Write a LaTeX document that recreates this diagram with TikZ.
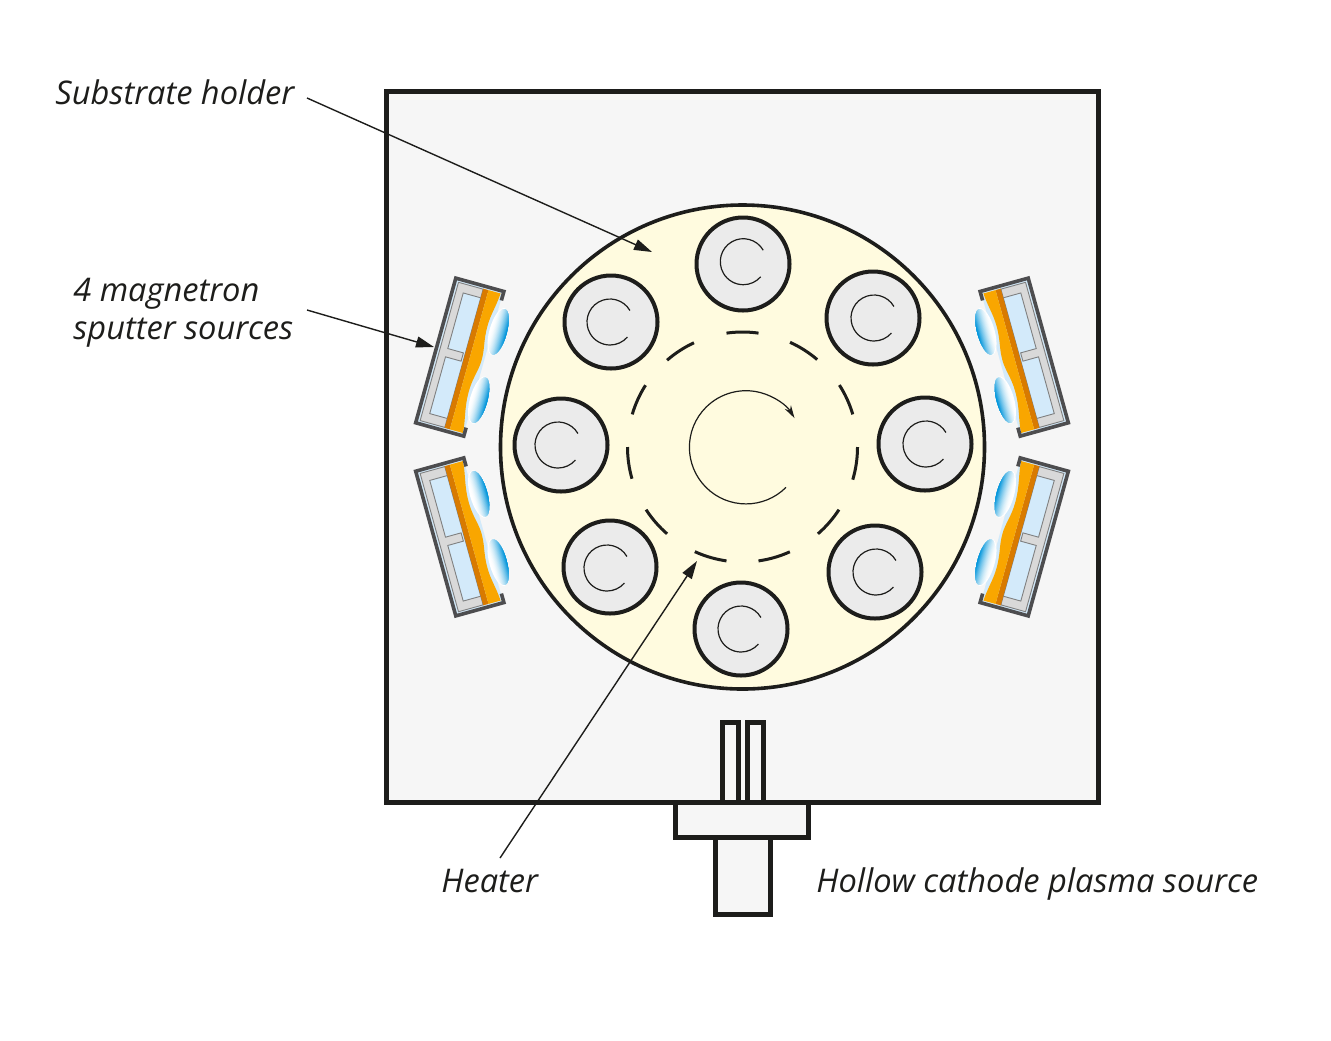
\documentclass[tikz,border=0pt]{standalone}
\usepackage{fontspec}
\setmainfont{Open Sans}
\usetikzlibrary{arrows.meta}
\definecolor{ink}{HTML}{1D1D1B}
\definecolor{chamber}{HTML}{F6F6F6}
\definecolor{holder}{HTML}{FFFBDF}
\definecolor{subst}{HTML}{EBEBEB}
\definecolor{frameg}{HTML}{4D4D4F}
\definecolor{pocket}{HTML}{D3EAFA}
\definecolor{housing}{HTML}{D9D9D9}
\definecolor{housingl}{HTML}{808080}
\definecolor{orangea}{HTML}{F9A600}
\definecolor{oranged}{HTML}{D87A00}
\definecolor{plasma}{HTML}{0095DB}
\tikzset{
  heavy/.style={draw=ink,line width=2.5pt,fill=chamber},
  holderdisc/.style={draw=ink,line width=1.8pt,fill=holder},
  substrate/.style={draw=ink,line width=2pt,fill=subst},
  thinarc/.style={draw=ink,line width=0.6pt},
  heaterdash/.style={draw=ink,line width=1.5pt},
  leader/.style={draw=ink,line width=0.7pt,-{Triangle[length=9pt,width=5.5pt]}},
  lbl/.style={font=\itshape\fontsize{16.3}{19}\selectfont,text=ink,inner sep=0pt,anchor=base west,align=left},
  hous/.style={draw=housingl,line width=0.45pt,fill=housing},
  pock/.style={draw=housingl,line width=0.45pt,fill=pocket},
}
\newcommand{\plume}[2]{%
  \fill[white] (#1-0.5,#2) ellipse [x radius=4.5pt,y radius=12.2pt];
  \begin{scope}
    \clip (#1,#2) ellipse [x radius=4pt,y radius=11.75pt];
    \foreach \i in {0,...,23}{%
      \pgfmathsetmacro{\pc}{100*pow(\i/23,1.7)}
      \fill[plasma!\pc!white] (#1-8+\i*16/24,#2-25) rectangle (#1+9,#2+25);
    }
  \end{scope}}
\newcommand{\magsource}[1]{%
  \begin{scope}[#1]
    \fill[pocket] (1,-75) rectangle (50,75);
    \fill[hous] (4.4,-72) rectangle (30,71.5);
    \fill[pock] (30,-63) -- (11.8,-63) -- (11.8,-5.3) -- (28,-5.3) -- (28,3.3) -- (11.8,3.3) -- (11.8,62.2) -- (30,62.2) -- cycle;
    \fill[oranged] (30,-72.5) rectangle (35.4,72);
    \fill[orangea] (35.4,-72.5) -- (48,-72.5)
      .. controls (47,-58) and (44,-50) .. (44,-38)
      .. controls (44,-22) and (47.5,-16) .. (47.5,-3)
      .. controls (47.5,8) and (43.5,16) .. (43.5,30)
      .. controls (43.5,48) and (48,58) .. (49,72)
      -- (35.4,72) -- cycle;
    \draw[frameg,line width=1.8pt,line join=miter] (50.6,-66) -- (50.6,-75.3) -- (0.7,-75.3) -- (0.7,74.8) -- (50.6,74.8) -- (50.6,66);
    \plume{56.5}{-35}
    \plume{56}{36}
  \end{scope}}
\newcommand{\wafer}[3]{%
  \node[substrate,circle,minimum size=46.5pt,inner sep=0pt] (#1) at (#2,#3) {};}
\newcommand{\cmark}[3]{%
  \draw[thinarc,shift={(#1,#2)}] (30:#3) arc [start angle=30,end angle=319,radius=#3];}
\begin{document}
\begin{tikzpicture}[x=0.5pt,y=-0.5pt]
\useasboundingbox (0,0) rectangle (1331,1040);
% chamber
\draw[heavy] (386,91) rectangle (1098,802);
\node[holderdisc,circle,minimum size=242pt,inner sep=0pt] (disc) at (742.5,447) {};
% substrates
\wafer{w1}{743}{264}
\wafer{w2}{611}{322}
\wafer{w3}{873}{318}
\wafer{w4}{561}{445}
\wafer{w5}{925}{444}
\wafer{w6}{610}{567}
\wafer{w7}{875}{572}
\wafer{w8}{741}{629}
\cmark{743.3}{261.7}{11.5pt}
\cmark{610}{322}{11.5pt}
\cmark{874}{318}{11.5pt}
\cmark{558}{445}{11.5pt}
\cmark{926}{444}{11.5pt}
\cmark{607}{568}{11.5pt}
\cmark{876}{572}{11.5pt}
\cmark{741}{629}{11.5pt}
% heater ring
\foreach \a/\b in {98/82,65.6/49.5,32.6/16.5,0/-16.5,-33/-49,-65.7/-82,-98/-114.5,-131/-147,-164/-180,163.5/147.5,131/115}
  \draw[heaterdash,shift={(742.5,447)}] (\a:57.5pt) arc [start angle=\a,end angle=\b,radius=57.5pt];
% rotation arrow
\draw[thinarc,shift={(746,447.3)},-{Stealth[length=6.5pt,width=3.6pt]}] (315:28.3pt) arc [start angle=315,end angle=31,radius=28.3pt];
% magnetrons
\magsource{shift={(435,350.5)},rotate=-15.5}
\magsource{shift={(435,543.5)},rotate=15.5,yscale=-1}
\magsource{shift={(1049,350.5)},rotate=15.5,xscale=-1}
\magsource{shift={(1049,543.5)},rotate=-15.5,xscale=-1,yscale=-1}
% plasma source
\draw[heavy] (722,722) rectangle (738,803);
\draw[heavy] (747.5,722) rectangle (763,803);
\draw[heavy] (675,802.5) rectangle (808.7,837);
\draw[heavy] (715,837) rectangle (770,914.5);
% labels
\node[lbl] (lsub) at (55,104) {Substrate holder};
\node[lbl] (lmag) at (73,339) {4 magnetron\\sputter sources};
\node[lbl] (lheat) at (441,892) {Heater};
\node[lbl] (lhol) at (816,892) {Hollow cathode plasma source};
% leaders
\coordinate (s0) at (307,98);
\coordinate (s1) at (652,252);
\coordinate (m0) at (307,310);
\coordinate (m1) at (434,347);
\coordinate (h0) at (500,858);
\coordinate (h1) at (697,561);
\draw[leader] (s0) -- (s1);
\draw[leader] (m0) -- (m1);
\draw[leader] (h0) -- (h1);
\end{tikzpicture}
\end{document}
